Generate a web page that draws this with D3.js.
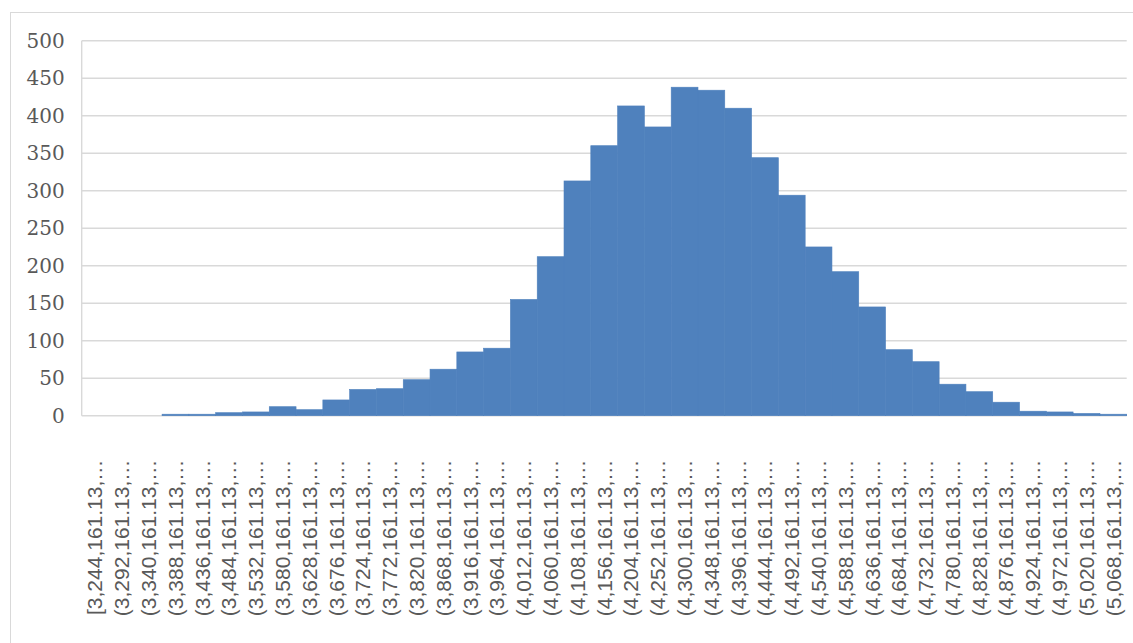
<!DOCTYPE html>
<html>
<head>
<meta charset="utf-8">
<script src="https://cdn.jsdelivr.net/npm/d3@7/dist/d3.min.js"></script>
<style>
  html, body { margin: 0; padding: 0; background: #ffffff; }
  svg { display: block; }
</style>
</head>
<body>
<svg id="chart" width="1133" height="643"></svg>
<script>
// Histogram bins (lower edge of each bin) and counts
const binStarts = [3244, 3292, 3340, 3388, 3436, 3484, 3532, 3580, 3628, 3676,
  3724, 3772, 3820, 3868, 3916, 3964, 4012, 4060, 4108, 4156,
  4204, 4252, 4300, 4348, 4396, 4444, 4492, 4540, 4588, 4636,
  4684, 4732, 4780, 4828, 4876, 4924, 4972, 5020, 5068];

const counts = [0, 0, 0, 2, 2, 4, 5, 12, 8, 21,
  35, 36, 48, 62, 85, 90, 155, 212, 313, 360,
  413, 385, 438, 434, 410, 344, 294, 225, 192, 145,
  88, 72, 42, 32, 18, 6, 5, 3, 2];

// Category labels as shown on the axis (truncated)
const categoryLabels = [
  "[3,244,161.13,…", "(3,292,161.13,…", "(3,340,161.13,…", "(3,388,161.13,…",
  "(3,436,161.13,…", "(3,484,161.13,…", "(3,532,161.13,…", "(3,580,161.13,…",
  "(3,628,161.13,…", "(3,676,161.13,…", "(3,724,161.13,…", "(3,772,161.13,…",
  "(3,820,161.13,…", "(3,868,161.13,…", "(3,916,161.13,…", "(3,964,161.13,…",
  "(4,012,161.13,…", "(4,060,161.13,…", "(4,108,161.13,…", "(4,156,161.13,…",
  "(4,204,161.13,…", "(4,252,161.13,…", "(4,300,161.13,…", "(4,348,161.13,…",
  "(4,396,161.13,…", "(4,444,161.13,…", "(4,492,161.13,…", "(4,540,161.13,…",
  "(4,588,161.13,…", "(4,636,161.13,…", "(4,684,161.13,…", "(4,732,161.13,…",
  "(4,780,161.13,…", "(4,828,161.13,…", "(4,876,161.13,…", "(4,924,161.13,…",
  "(4,972,161.13,…", "(5,020,161.13,…", "(5,068,161.13,…"];

const yTicks = [0, 50, 100, 150, 200, 250, 300, 350, 400, 450, 500];

const svg = d3.select("#chart");

// Chart area frame
svg.append("rect")
  .attr("x", 10.5).attr("y", 12.5)
  .attr("width", 1140).attr("height", 660)
  .attr("fill", "#ffffff")
  .attr("stroke", "#d9d9d9").attr("stroke-width", 1);

const plot = { left: 81.7, right: 1126.7, top: 40.7, bottom: 415.7 };

const x = d3.scaleBand()
  .domain(binStarts)
  .range([plot.left, plot.right])
  .padding(0);

const y = d3.scaleLinear()
  .domain([0, 500])
  .range([plot.bottom, plot.top]);

// Horizontal gridlines
svg.append("g")
  .selectAll("line")
  .data(yTicks)
  .join("line")
  .attr("x1", plot.left).attr("x2", plot.right)
  .attr("y1", d => y(d)).attr("y2", d => y(d))
  .attr("stroke", "#d9d9d9").attr("stroke-width", 1.4);

// Vertical axis line
svg.append("line")
  .attr("x1", plot.left).attr("x2", plot.left)
  .attr("y1", plot.top).attr("y2", plot.bottom)
  .attr("stroke", "#d9d9d9").attr("stroke-width", 1.4);

// Bars (thin same-colour stroke closes the seams between adjacent bins)
svg.append("g")
  .selectAll("rect")
  .data(counts.map((c, i) => ({ bin: binStarts[i], c })))
  .join("rect")
  .attr("x", d => x(d.bin))
  .attr("width", x.bandwidth())
  .attr("y", d => y(d.c))
  .attr("height", d => y(0) - y(d.c))
  .attr("fill", "#4f81bd")
  .attr("stroke", d => d.c > 0 ? "#4f81bd" : "none")
  .attr("stroke-width", 0.6);

// Y axis labels
const yAxis = d3.axisLeft(y).tickValues(yTicks).tickSize(0).tickPadding(17);
const yg = svg.append("g")
  .attr("transform", `translate(${plot.left},0)`)
  .call(yAxis);
yg.select(".domain").remove();
yg.selectAll("text")
  .attr("fill", "#595959")
  .style("font-family", "'DejaVu Serif', serif")
  .style("font-size", "20px");

// X axis category labels, rotated
const xAxis = d3.axisBottom(x)
  .tickFormat((d, i) => categoryLabels[i])
  .tickSize(0);
const xg = svg.append("g")
  .attr("transform", `translate(0,${plot.bottom})`)
  .call(xAxis);
xg.select(".domain").remove();
xg.selectAll("text")
  .attr("fill", "#595959")
  .style("font-family", "'Liberation Sans', Arial, sans-serif")
  .style("font-size", "21px")
  .attr("text-anchor", "end")
  .attr("dy", "0.35em")
  .attr("transform", "translate(0,44) rotate(-90)")
  .attr("x", 0).attr("y", 0);
</script>
</body>
</html>
